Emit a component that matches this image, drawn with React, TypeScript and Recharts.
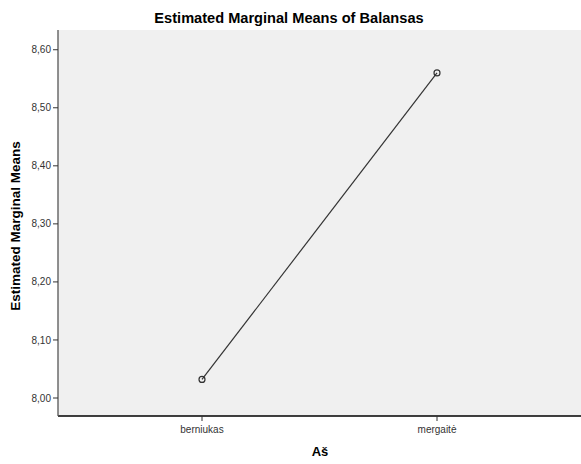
import { LineChart, Line, XAxis, YAxis, CartesianGrid } from "recharts";

const categories = ["berniukas", "mergaitė"];
const means = [8.032, 8.56];
const yTicks = [8.0, 8.1, 8.2, 8.3, 8.4, 8.5, 8.6];

const data = categories.map((c, i) => ({ label: c, value: means[i] }));

const font = "'Liberation Sans', Arial, sans-serif";

const App = () => {
    return (
        <div
            style={{
                position: "absolute",
                left: 0,
                top: 0,
                width: 581,
                height: 464,
                overflow: "hidden",
                background: "#fff",
                fontFamily: font,
            }}
        >
            <div
                style={{
                    position: "absolute",
                    left: 289,
                    top: 18,
                    transform: "translate(-50%, -50%)",
                    whiteSpace: "nowrap",
                    fontSize: 14.6,
                    fontWeight: "bold",
                    color: "#000",
                }}
            >
                Estimated Marginal Means of Balansas
            </div>
            <div
                style={{
                    position: "absolute",
                    left: 15,
                    top: 226,
                    transform: "translate(-50%, -50%) rotate(-90deg)",
                    whiteSpace: "nowrap",
                    fontSize: 13.5,
                    fontWeight: "bold",
                    color: "#000",
                }}
            >
                Estimated Marginal Means
            </div>
            <div
                style={{
                    position: "absolute",
                    left: 320,
                    top: 451,
                    transform: "translate(-50%, -50%)",
                    whiteSpace: "nowrap",
                    fontSize: 13,
                    fontWeight: "bold",
                    color: "#000",
                }}
            >
                Aš
            </div>
            <LineChart
                width={600}
                height={464}
                data={data}
                margin={{ top: 30, right: 10, left: 0, bottom: 0 }}
            >
                <CartesianGrid fill="#f0f0f0" horizontal={false} vertical={false} />
                <XAxis
                    dataKey="label"
                    height={48}
                    padding={{ left: 144, right: 153 }}
                    axisLine={{ stroke: "#000", strokeWidth: 1.3 }}
                    tickLine={{ stroke: "#333" }}
                    tickSize={5}
                    tickMargin={5}
                    tick={{ fontSize: 10, fill: "#333", fontFamily: font }}
                />
                <XAxis
                    xAxisId="top"
                    dataKey="label"
                    orientation="top"
                    height={0}
                    tick={false}
                    tickLine={false}
                    axisLine={{ stroke: "#888", strokeWidth: 1.3 }}
                />
                <YAxis
                    width={58}
                    domain={[7.969, 8.634]}
                    ticks={yTicks}
                    allowDataOverflow
                    tickFormatter={(v: number) => v.toFixed(2).replace(".", ",")}
                    axisLine={{ stroke: "#555", strokeWidth: 1.3 }}
                    tickLine={{ stroke: "#333" }}
                    tickSize={5}
                    tickMargin={2}
                    tick={{ fontSize: 10, fill: "#333", fontFamily: font }}
                />
                <Line
                    type="linear"
                    dataKey="value"
                    stroke="#333"
                    strokeWidth={1.2}
                    dot={{ r: 3, stroke: "#333", strokeWidth: 1.2, fill: "none" }}
                    activeDot={false}
                    isAnimationActive={false}
                />
            </LineChart>
        </div>
    );
};

export default App;
